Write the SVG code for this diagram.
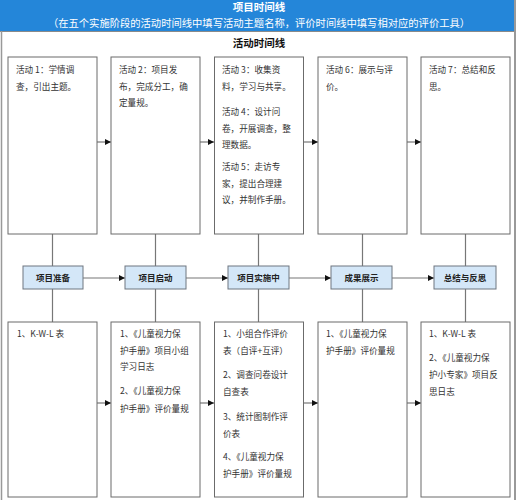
<svg xmlns="http://www.w3.org/2000/svg" width="518" height="500" viewBox="0 0 518 500">
<defs>
<style>
.box{fill:#fff;stroke:#6b6b6b;stroke-width:1}
.stage{fill:#d4e7f8;stroke:#6e7680;stroke-width:1}
.ln{stroke:#777;stroke-width:1.2;fill:none}
.t{font-family:"Noto Sans CJK SC","Microsoft YaHei",sans-serif;font-size:8.6px;fill:#333}
.st{font-family:"Noto Sans CJK SC",sans-serif;font-size:8.5px;font-weight:bold;fill:#222;text-anchor:middle}
.hd{font-family:"Noto Sans CJK SC",sans-serif;fill:#fff;text-anchor:middle}
</style>
<marker id="ah" viewBox="0 0 10 10" refX="10" refY="5" markerWidth="6" markerHeight="6" orient="auto" markerUnits="userSpaceOnUse"><path d="M0,0L10,5L0,10z" fill="#111"/></marker>
</defs>
<rect x="0" y="0" width="518" height="500" fill="#fff"/>
<g id="header">
<rect x="0" y="0" width="514" height="31" fill="#2486d9"/>
<line x1="0" y1="31.5" x2="514" y2="31.5" stroke="#8a8a8a" stroke-width="1"/>
<text class="hd" x="259" y="11" font-size="10.5" font-weight="bold">项目时间线</text>
<text class="hd" x="259" y="27" font-size="10.3">（在五个实施阶段的活动时间线中填写活动主题名称，评价时间线中填写相对应的评价工具）</text>
</g>
<line x1="1.5" y1="31" x2="1.5" y2="500" stroke="#999" stroke-width="1.5"/>
<line x1="515" y1="0" x2="515" y2="500" stroke="#999" stroke-width="2"/>
<text x="259" y="47" font-family="Noto Sans CJK SC,sans-serif" font-size="10.5" font-weight="bold" fill="#111" text-anchor="middle">活动时间线</text>

<g id="connectors">
<path class="ln" d="M97,142H111" marker-end="url(#ah)"/>
<path class="ln" d="M200,142H214" marker-end="url(#ah)"/>
<path class="ln" d="M304,142H318" marker-end="url(#ah)"/>
<path class="ln" d="M407,142H421" marker-end="url(#ah)"/>
<path class="ln" d="M83,278H125" marker-end="url(#ah)"/>
<path class="ln" d="M186,278H228" marker-end="url(#ah)"/>
<path class="ln" d="M289,278H331" marker-end="url(#ah)"/>
<path class="ln" d="M392,278H434" marker-end="url(#ah)"/>
<path class="ln" d="M97,403H111" marker-end="url(#ah)"/>
<path class="ln" d="M200,403H214" marker-end="url(#ah)"/>
<path class="ln" d="M304,403H318" marker-end="url(#ah)"/>
<path class="ln" d="M407,403H421" marker-end="url(#ah)"/>
<path class="ln" d="M52.5,234V266M52.5,289V322M155.5,234V266M155.5,289V322M258.5,234V266M258.5,289V322M362.5,234V266M362.5,289V322M465.5,234V266M465.5,289V322"/>
</g>

<g id="act1"><rect class="box" x="8" y="57" width="89" height="177"/>
<text class="t"><tspan x="16" y="73">活动 1：学情调</tspan><tspan x="16" y="90">查，引出主题。</tspan></text></g>
<g id="act2"><rect class="box" x="111" y="57" width="89" height="177"/>
<text class="t"><tspan x="119" y="73">活动 2：项目发</tspan><tspan x="119" y="90">布，完成分工，确</tspan><tspan x="119" y="106">定量规。</tspan></text></g>
<g id="act3"><rect class="box" x="214.5" y="57" width="89" height="177"/>
<text class="t"><tspan x="222" y="73">活动 3：收集资</tspan><tspan x="222" y="90">料，学习与共享。</tspan><tspan x="222" y="115">活动 4：设计问</tspan><tspan x="222" y="132">卷，开展调查，整</tspan><tspan x="222" y="148">理数据。</tspan><tspan x="222" y="170">活动 5：走访专</tspan><tspan x="222" y="187">家，提出合理建</tspan><tspan x="222" y="203">议，并制作手册。</tspan></text></g>
<g id="act4"><rect class="box" x="318" y="57" width="89" height="177"/>
<text class="t"><tspan x="326" y="73">活动 6：展示与评</tspan><tspan x="326" y="90">价。</tspan></text></g>
<g id="act5"><rect class="box" x="421" y="57" width="89" height="177"/>
<text class="t"><tspan x="429" y="73">活动 7：总结和反</tspan><tspan x="429" y="90">思。</tspan></text></g>

<g id="stage1"><rect class="stage" x="23" y="266" width="60" height="23"/><text class="st" x="53" y="281">项目准备</text></g>
<g id="stage2"><rect class="stage" x="125" y="266" width="61" height="23"/><text class="st" x="155.5" y="281">项目启动</text></g>
<g id="stage3"><rect class="stage" x="228" y="266" width="61" height="23"/><text class="st" x="258.5" y="281">项目实施中</text></g>
<g id="stage4"><rect class="stage" x="331" y="266" width="61" height="23"/><text class="st" x="361.5" y="281">成果展示</text></g>
<g id="stage5"><rect class="stage" x="434" y="266" width="62" height="23"/><text class="st" x="465" y="281">总结与反思</text></g>

<g id="eval1"><rect class="box" x="8" y="322" width="89" height="175"/>
<text class="t"><tspan x="17" y="337">1、K-W-L 表</tspan></text></g>
<g id="eval2"><rect class="box" x="111" y="322" width="89" height="175"/>
<text class="t"><tspan x="120" y="337">1、《儿童视力保</tspan><tspan x="120" y="354">护手册》项目小组</tspan><tspan x="120" y="370">学习日志</tspan><tspan x="120" y="394">2、《儿童视力保</tspan><tspan x="120" y="412">护手册》评价量规</tspan></text></g>
<g id="eval3"><rect class="box" x="214.5" y="322" width="89" height="175"/>
<text class="t"><tspan x="223" y="337">1、小组合作评价</tspan><tspan x="223" y="354">表（自评+互评）</tspan><tspan x="223" y="378">2、调查问卷设计</tspan><tspan x="223" y="395">自查表</tspan><tspan x="223" y="420">3、统计图制作评</tspan><tspan x="223" y="437">价表</tspan><tspan x="223" y="460">4、《儿童视力保</tspan><tspan x="223" y="477">护手册》评价量规</tspan></text></g>
<g id="eval4"><rect class="box" x="318" y="322" width="89" height="175"/>
<text class="t"><tspan x="326" y="337">1、《儿童视力保</tspan><tspan x="326" y="354">护手册》评价量规</tspan></text></g>
<g id="eval5"><rect class="box" x="421" y="322" width="89" height="175"/>
<text class="t"><tspan x="429" y="337">1、K-W-L 表</tspan><tspan x="429" y="361">2、《儿童视力保</tspan><tspan x="429" y="378">护小专家》项目反</tspan><tspan x="429" y="395">思日志</tspan></text></g>
</svg>
